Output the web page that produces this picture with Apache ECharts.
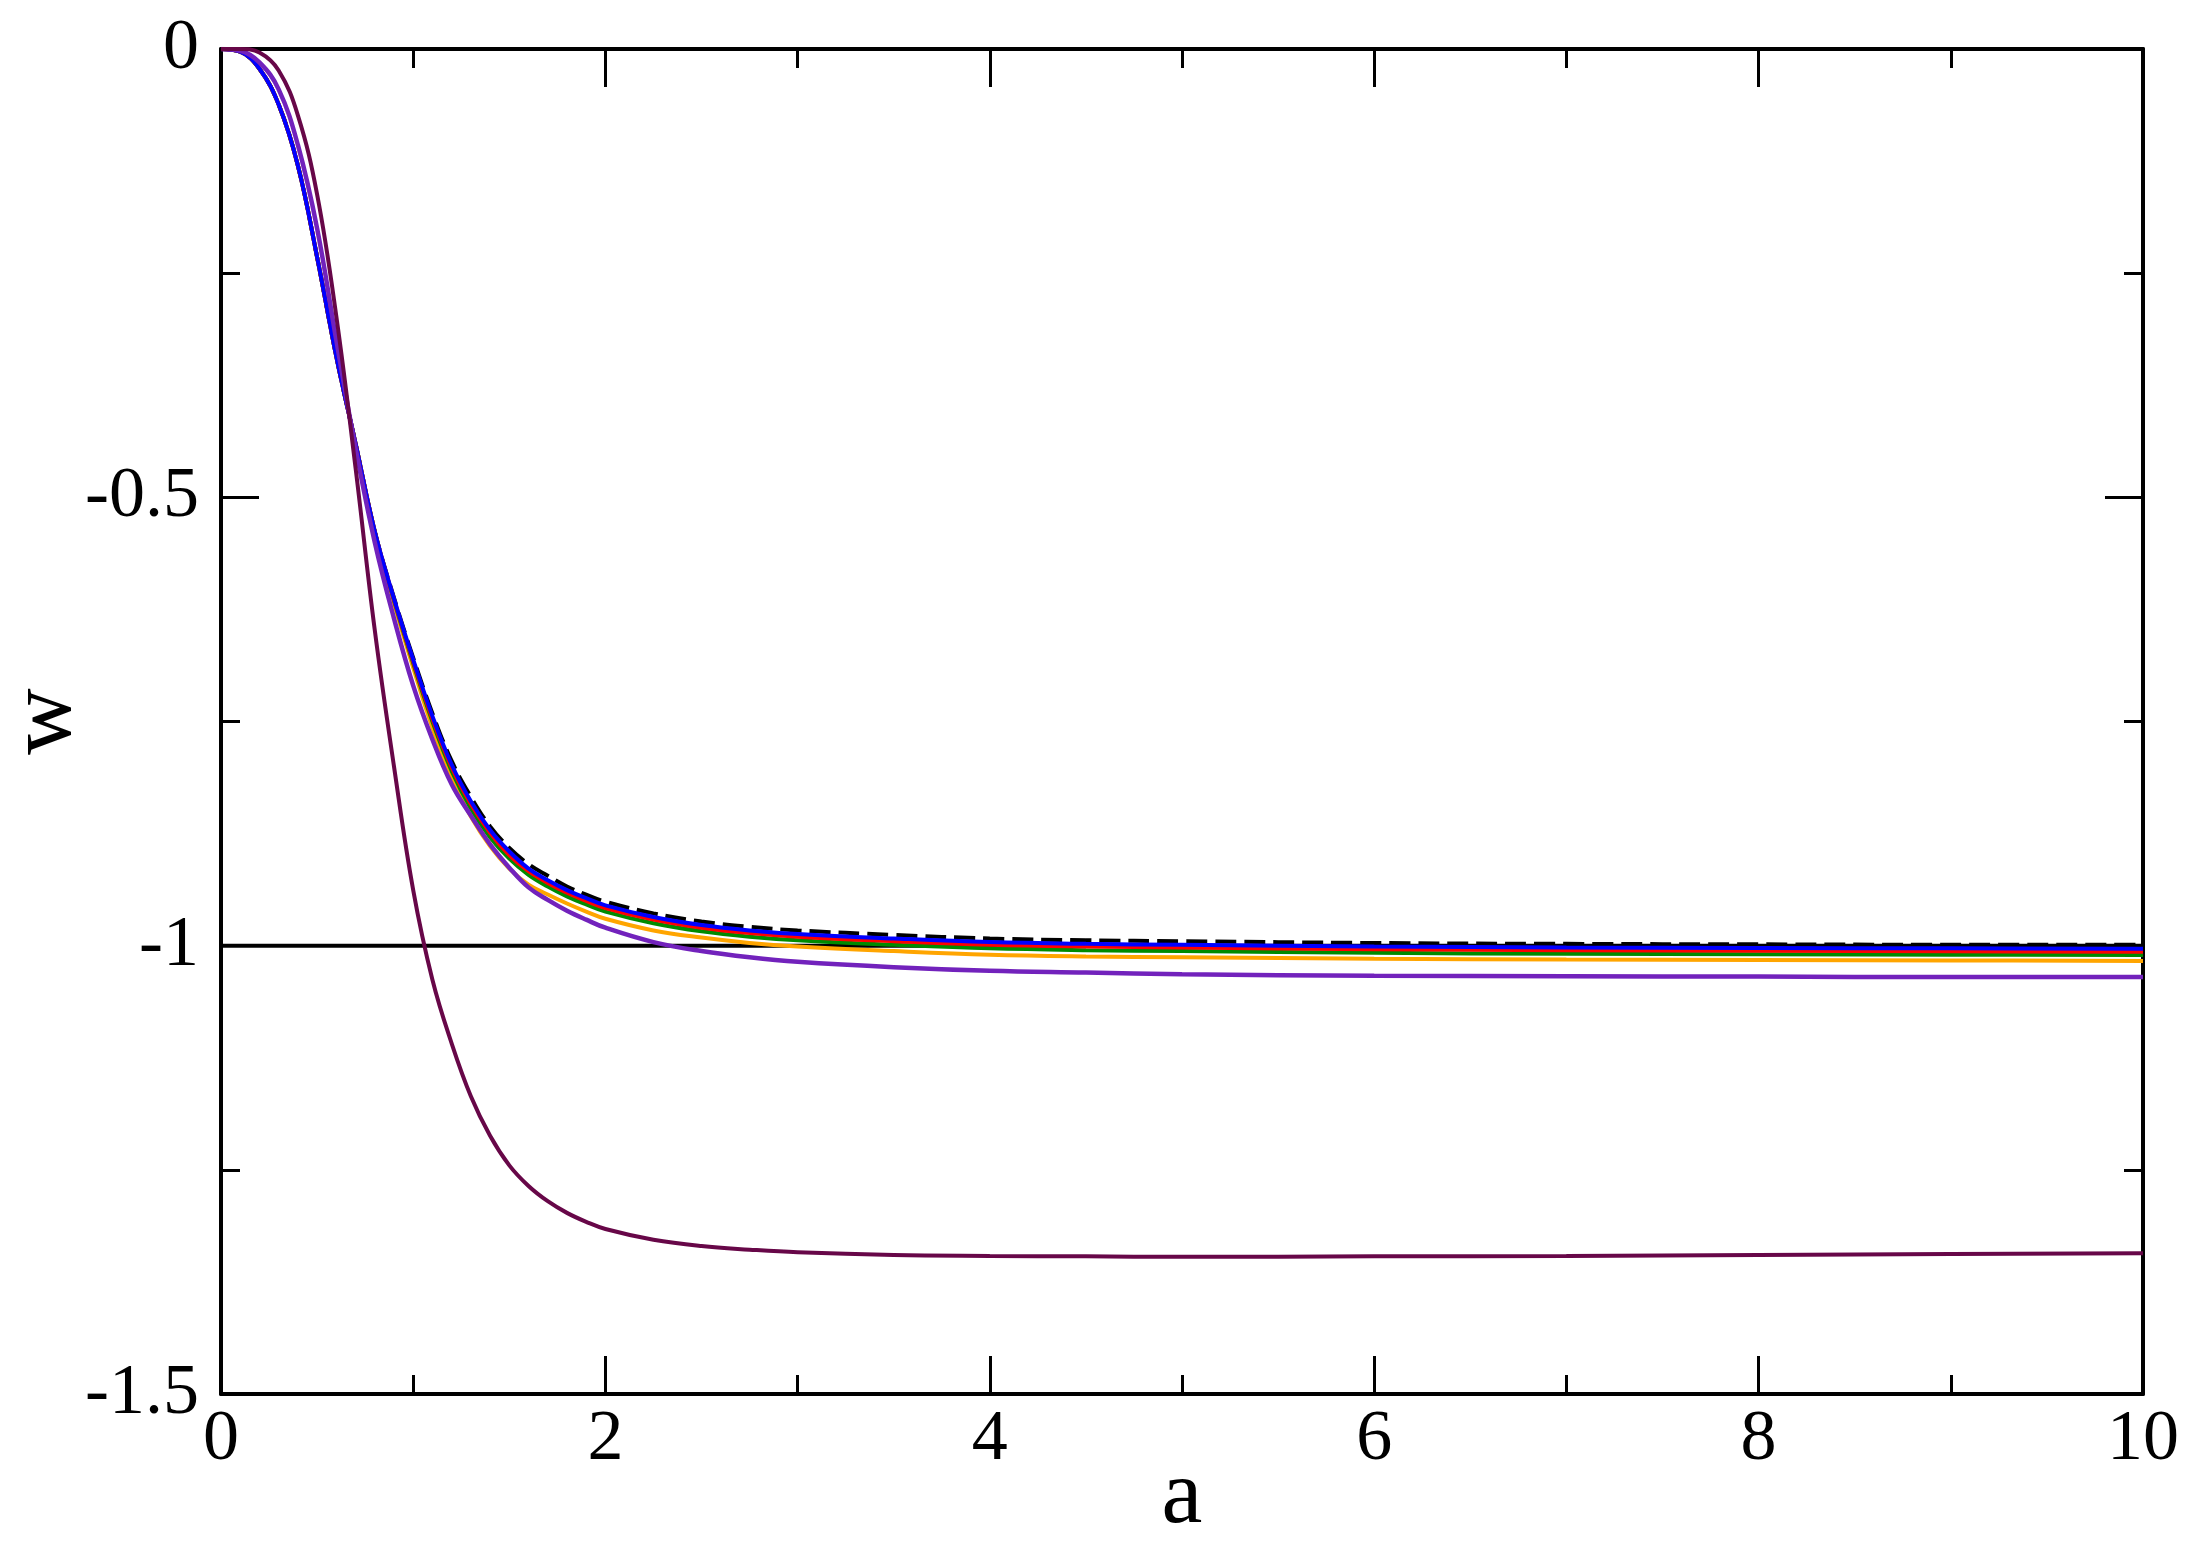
<!DOCTYPE html>
<html>
<head>
<meta charset="utf-8">
<script src="https://cdn.jsdelivr.net/npm/echarts@6/dist/echarts.min.js"></script>
<style>
  html, body { margin: 0; padding: 0; background: #fff; }
  #main { width: 2206px; height: 1552px; }
</style>
</head>
<body>
<div id="main"></div>
<script>
// sample points on the a axis, shared by every curve
var aVals = [0, 0.1, 0.2, 0.3, 0.4, 0.5, 0.6, 0.7, 0.8, 0.9, 1.0, 1.1, 1.2, 1.3, 1.4, 1.5, 1.6, 1.7, 1.8, 1.9, 2.0, 2.25, 2.5, 2.75, 3, 3.5, 4, 4.5, 5, 6, 7, 8, 9, 10];

// w(a)
var wDashed = [0, -0.003, -0.022, -0.062, -0.13, -0.232, -0.343, -0.44, -0.538, -0.612, -0.679, -0.741, -0.794, -0.834, -0.867, -0.891, -0.909, -0.922, -0.934, -0.943, -0.951, -0.964, -0.973, -0.979, -0.983, -0.988, -0.992, -0.994, -0.995, -0.997, -0.998, -0.9985, -0.999, -0.999];
var wBlue = [0, -0.003, -0.022, -0.062, -0.13, -0.232, -0.343, -0.44, -0.538, -0.613, -0.681, -0.744, -0.798, -0.839, -0.871, -0.895, -0.914, -0.927, -0.938, -0.947, -0.955, -0.968, -0.977, -0.983, -0.987, -0.992, -0.996, -0.998, -0.999, -1.001, -1.002, -1.0025, -1.003, -1.0033];
var wRed = [0, -0.003, -0.022, -0.062, -0.13, -0.232, -0.343, -0.44, -0.538, -0.614, -0.683, -0.747, -0.801, -0.842, -0.874, -0.899, -0.917, -0.930, -0.941, -0.950, -0.958, -0.971, -0.980, -0.986, -0.990, -0.995, -0.999, -1.001, -1.002, -1.004, -1.005, -1.0058, -1.0063, -1.0067];
var wGreen = [0, -0.003, -0.022, -0.062, -0.13, -0.232, -0.343, -0.44, -0.538, -0.615, -0.685, -0.75, -0.805, -0.847, -0.879, -0.903, -0.921, -0.934, -0.945, -0.954, -0.962, -0.975, -0.984, -0.990, -0.994, -0.999, -1.003, -1.005, -1.006, -1.008, -1.009, -1.0095, -1.010, -1.0104];
var wOrange = [0, -0.003, -0.022, -0.062, -0.13, -0.232, -0.343, -0.44, -0.539, -0.618, -0.69, -0.757, -0.813, -0.856, -0.889, -0.914, -0.932, -0.943, -0.953, -0.962, -0.970, -0.983, -0.991, -0.997, -1.001, -1.006, -1.010, -1.012, -1.013, -1.0145, -1.0155, -1.016, -1.0165, -1.017];
var wPurple = [0, -0.002, -0.015, -0.045, -0.107, -0.2, -0.325, -0.445, -0.55, -0.635, -0.71, -0.77, -0.82, -0.855, -0.887, -0.913, -0.935, -0.949, -0.961, -0.971, -0.98, -0.996, -1.006, -1.013, -1.018, -1.024, -1.028, -1.030, -1.032, -1.0335, -1.034, -1.0345, -1.035, -1.035];
var wMaroon = [0, 0, -0.004, -0.024, -0.074, -0.162, -0.298, -0.467, -0.648, -0.80, -0.938, -1.038, -1.109, -1.168, -1.212, -1.245, -1.268, -1.285, -1.298, -1.308, -1.316, -1.328, -1.335, -1.339, -1.342, -1.345, -1.346, -1.3465, -1.347, -1.3465, -1.346, -1.345, -1.344, -1.343];

// reference line w = -1
var refA = [0, 10];
var refW = [-1, -1];

var xTicks = { min: 0, max: 10, interval: 2 };
var yTicks = { min: -1.5, max: 0, interval: 0.5 };

function pairs (xs, ys) {
  return xs.map(function (x, i) { return [x, ys[i]]; });
}

function curve (ys, color, width, dash) {
  return {
    type: 'line',
    data: pairs(aVals, ys),
    showSymbol: false,
    smooth: 0.4,
    lineStyle: { color: color, width: width, type: dash || 'solid' },
    silent: true
  };
}

var font = 'Liberation Serif';

function axisCommon (showLabel) {
  return {
    nameMoveOverlap: false,
    axisLine: { show: true, onZero: false, lineStyle: { color: '#000', width: 4 } },
    axisTick: { show: true, inside: true, length: 38, lineStyle: { color: '#000', width: 3 } },
    minorTick: { show: true, splitNumber: 2, length: 19, lineStyle: { color: '#000', width: 3 } },
    splitLine: { show: false },
    minorSplitLine: { show: false },
    axisLabel: { show: showLabel, color: '#000', fontFamily: font, fontSize: 72 }
  };
}

var chart = echarts.init(document.getElementById('main'), null, { renderer: 'canvas' });

var xBottom = Object.assign(axisCommon(true), {
  type: 'value', position: 'bottom', min: xTicks.min, max: xTicks.max, interval: xTicks.interval,
  name: 'a', nameLocation: 'middle', nameGap: 58,
  nameTextStyle: { color: '#000', fontFamily: font, fontSize: 92 }
});
xBottom.axisLabel.margin = 10;

var xTop = Object.assign(axisCommon(false), {
  type: 'value', position: 'top', min: xTicks.min, max: xTicks.max, interval: xTicks.interval
});

var yLeft = Object.assign(axisCommon(true), {
  type: 'value', position: 'left', min: yTicks.min, max: yTicks.max, interval: yTicks.interval,
  name: 'w', nameLocation: 'middle', nameGap: 129, nameRotate: 90,
  nameTextStyle: { color: '#000', fontFamily: font, fontSize: 92 }
});
yLeft.axisLabel.margin = 22;

var yRight = Object.assign(axisCommon(false), {
  type: 'value', position: 'right', min: yTicks.min, max: yTicks.max, interval: yTicks.interval
});

chart.setOption({
  backgroundColor: '#fff',
  animation: false,
  grid: { left: 221, right: 63, top: 49, bottom: 158, containLabel: false, outerBoundsMode: 'none' },
  xAxis: [xBottom, xTop],
  yAxis: [yLeft, yRight],
  series: [
    {
      type: 'line',
      data: pairs(refA, refW),
      showSymbol: false,
      lineStyle: { color: '#000', width: 4 },
      silent: true
    },
    curve(wDashed, '#000000', 4, [21, 8]),
    curve(wOrange, '#ffa500', 4),
    curve(wGreen, '#008b00', 4),
    curve(wRed, '#ff0000', 4),
    curve(wBlue, '#0000ff', 4),
    curve(wPurple, '#7222bc', 4.5),
    curve(wMaroon, '#670748', 4)
  ]
});
</script>
</body>
</html>
